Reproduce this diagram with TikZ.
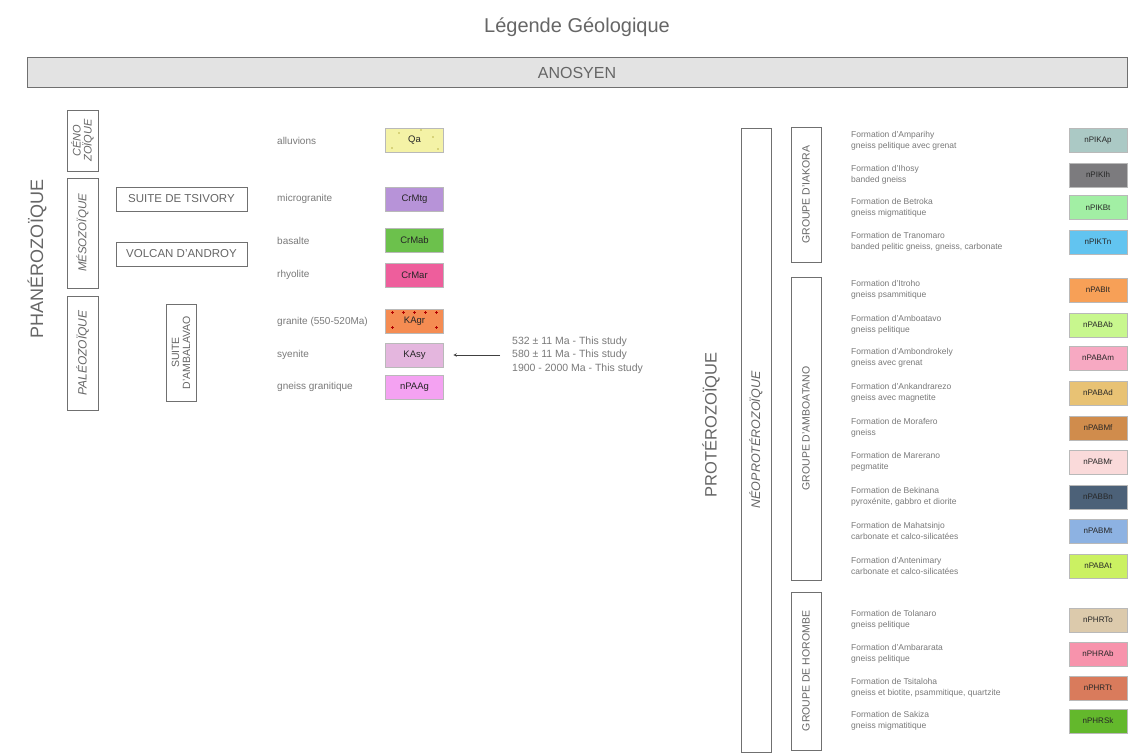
\documentclass[tikz,border=0pt]{standalone}
\usepackage{fontspec}
\setmainfont{Liberation Sans}
\definecolor{txtgray}{HTML}{666666}
\definecolor{labgray}{HTML}{7A7A7A}
\definecolor{boxgray}{HTML}{707070}
\definecolor{cQa}{HTML}{F4F2A6}
\definecolor{cCrMtg}{HTML}{B793D8}
\definecolor{cCrMab}{HTML}{6CC14C}
\definecolor{cCrMar}{HTML}{EE5E9C}
\definecolor{cKAgr}{HTML}{F58C52}
\definecolor{cKAsy}{HTML}{E4B6DE}
\definecolor{cnPAAg}{HTML}{F4A2F2}
\definecolor{cIKAp}{HTML}{ABC9C5}
\definecolor{cIKIh}{HTML}{7C7B7E}
\definecolor{cIKBt}{HTML}{A2EFA4}
\definecolor{cIKTn}{HTML}{62C4F0}
\definecolor{cABIt}{HTML}{F7A057}
\definecolor{cABAb}{HTML}{C8F78E}
\definecolor{cABAm}{HTML}{F7A9C2}
\definecolor{cABAd}{HTML}{E8C274}
\definecolor{cABMf}{HTML}{D08C4C}
\definecolor{cABMr}{HTML}{FADADA}
\definecolor{cABBn}{HTML}{4C6178}
\definecolor{cABMt}{HTML}{8DB2E2}
\definecolor{cABAt}{HTML}{CBF162}
\definecolor{cHRTo}{HTML}{DCCAAC}
\definecolor{cHRAb}{HTML}{F793AC}
\definecolor{cHRTt}{HTML}{D97B5C}
\definecolor{cHRSk}{HTML}{63B82C}
\begin{document}
\begin{tikzpicture}[x=1pt, y=-1pt,
  box/.style={draw=boxgray, line width=0.9pt, text=txtgray, inner sep=0pt, align=center},
  vbox/.style={box, rotate=90},
  swatch/.style={draw=gray!55, line width=0.6pt, minimum width=58pt, minimum height=24pt, inner sep=0pt, text=black!85, font=\fontsize{9.5}{10}\selectfont},
  rswatch/.style={swatch, font=\fontsize{8}{8}\selectfont},
  lab/.style={anchor=west, inner sep=0pt, text=labgray, font=\fontsize{10}{12}\selectfont},
  flab/.style={anchor=west, inner sep=0pt, align=left, text=labgray, font=\fontsize{8.5}{11}\selectfont}]
\useasboundingbox[fill=white] (0,0) rectangle (1129,754);

\node[text=txtgray, font=\fontsize{20}{24}\selectfont] (title) at (577,27) {Légende Géologique};
\node[box, fill=gray!22, line width=1pt, minimum width=1100pt, minimum height=30pt, font=\fontsize{16}{18}\selectfont] (anosyen) at (577,73) {ANOSYEN};

\node[rotate=90, text=txtgray, font=\fontsize{18}{20}\selectfont] (phan) at (37,259) {PHANÉROZOÏQUE};
\node[vbox, minimum width=61pt, minimum height=31pt, font=\itshape\fontsize{11}{11}\selectfont] (ceno) at (82.5,140.5) {CÉNO\\ZOÏQUE};
\node[vbox, minimum width=110pt, minimum height=31pt, font=\itshape\fontsize{11.5}{12}\selectfont] (meso) at (82.5,233) {MÉSOZOÏQUE};
\node[vbox, minimum width=114pt, minimum height=31pt, font=\itshape\fontsize{12}{12}\selectfont] (paleo) at (82.5,353) {PALÉOZOÏQUE};
\node[box, minimum width=131pt, minimum height=24pt, font=\fontsize{11.5}{12}\selectfont] (tsivory) at (181.5,199) {SUITE DE TSIVORY};
\node[box, minimum width=131pt, minimum height=24pt, font=\fontsize{11.5}{12}\selectfont] (androy) at (181.5,254) {VOLCAN D'ANDROY};
\node[vbox, minimum width=97pt, minimum height=30pt, font=\fontsize{10.5}{11}\selectfont] (ambalavao) at (181,352.5) {SUITE\\D'AMBALAVAO};

\node[swatch, fill=cQa] (sw0) at (414.5,140.5) {Qa};
\node[swatch, fill=cCrMtg] (sw1) at (414.5,199) {CrMtg};
\node[swatch, fill=cCrMab] (sw2) at (414.5,240.5) {CrMab};
\node[swatch, fill=cCrMar] (sw3) at (414.5,275) {CrMar};
\node[swatch, fill=cKAgr] (sw4) at (414.5,321.5) {KAgr};
\node[swatch, fill=cKAsy] (sw5) at (414.5,355) {KAsy};
\node[swatch, fill=cnPAAg] (sw6) at (414.5,387) {nPAAg};
\fill[olive!60] (392,148) circle (0.8) (399,133) circle (0.8) (433,137) circle (0.8) (438,149) circle (0.8) (421,130) circle (0.8);
\draw[red!70!black, line width=0.6pt] (391,312.5) -- (394,312.5) (392.5,311) -- (392.5,314)
  (402,312.5) -- (405,312.5) (403.5,311) -- (403.5,314)
  (413,312.5) -- (416,312.5) (414.5,311) -- (414.5,314)
  (424,312.5) -- (427,312.5) (425.5,311) -- (425.5,314)
  (435,312.5) -- (438,312.5) (436.5,311) -- (436.5,314)
  (391,327.5) -- (394,327.5) (392.5,326) -- (392.5,329)
  (435,327.5) -- (438,327.5) (436.5,326) -- (436.5,329);

\node[lab] (lb0) at (277,140.5) {alluvions};
\node[lab] (lb1) at (277,199) {microgranite};
\node[lab] (lb2) at (277,240.5) {basalte};
\node[lab] (lb3) at (277,275) {rhyolite};
\node[lab] (lb4) at (277,321.5) {granite (550-520Ma)};
\node[lab] (lb5) at (277,355) {syenite};
\node[lab] (lb6) at (277,387) {gneiss granitique};

\node[flab, font=\fontsize{10.5}{13.5}\selectfont] (study) at (512,355) {532 ± 11 Ma - This study\\580 ± 11 Ma - This study\\1900 - 2000 Ma - This study};
\draw[-stealth, black!75, line width=0.6pt, shorten <=12pt, shorten >=9.5pt] (study.west) -- (sw5.east);

\node[rotate=90, text=txtgray, font=\fontsize{16.5}{18}\selectfont] (proto) at (711,425) {PROTÉROZOÏQUE};
\node[vbox, minimum width=624pt, minimum height=30pt, font=\itshape\fontsize{12.5}{13}\selectfont] (neo) at (756,440) {NÉOPROTÉROZOÏQUE};
\node[vbox, minimum width=135pt, minimum height=30pt, font=\fontsize{10.5}{11}\selectfont] (iakora) at (806,194.5) {GROUPE D'IAKORA};
\node[vbox, minimum width=303pt, minimum height=30pt, font=\fontsize{10.5}{11}\selectfont] (amboatano) at (806,428.5) {GROUPE D'AMBOATANO};
\node[vbox, minimum width=158pt, minimum height=30pt, font=\fontsize{10.5}{11}\selectfont] (horombe) at (806,671) {GROUPE DE HOROMBE};

\node[flab] (fm0) at (851,140.5) {Formation d'Amparihy\\gneiss pelitique avec grenat};
\node[rswatch, fill=cIKAp] (rsw0) at (1098,140.5) {nPIKAp};
\node[flab] (fm1) at (851,175) {Formation d'Ihosy\\banded gneiss};
\node[rswatch, fill=cIKIh] (rsw1) at (1098,175) {nPIKIh};
\node[flab] (fm2) at (851,207.5) {Formation de Betroka\\gneiss migmatitique};
\node[rswatch, fill=cIKBt] (rsw2) at (1098,207.5) {nPIKBt};
\node[flab] (fm3) at (851,242) {Formation de Tranomaro\\banded pelitic gneiss, gneiss, carbonate};
\node[rswatch, fill=cIKTn] (rsw3) at (1098,242) {nPIKTn};

\node[flab] (fm4) at (851,290) {Formation d'Itroho\\gneiss psammitique};
\node[rswatch, fill=cABIt] (rsw4) at (1098,290) {nPABIt};
\node[flab] (fm5) at (851,325) {Formation d'Amboatavo\\gneiss pelitique};
\node[rswatch, fill=cABAb] (rsw5) at (1098,325) {nPABAb};
\node[flab] (fm6) at (851,358) {Formation d'Ambondrokely\\gneiss avec grenat};
\node[rswatch, fill=cABAm] (rsw6) at (1098,358) {nPABAm};
\node[flab] (fm7) at (851,393) {Formation d'Ankandrarezo\\gneiss avec magnetite};
\node[rswatch, fill=cABAd] (rsw7) at (1098,393) {nPABAd};
\node[flab] (fm8) at (851,428) {Formation de Morafero\\gneiss};
\node[rswatch, fill=cABMf] (rsw8) at (1098,428) {nPABMf};
\node[flab] (fm9) at (851,462) {Formation de Marerano\\pegmatite};
\node[rswatch, fill=cABMr] (rsw9) at (1098,462) {nPABMr};
\node[flab] (fm10) at (851,497) {Formation de Bekinana\\pyroxénite, gabbro et diorite};
\node[rswatch, fill=cABBn] (rsw10) at (1098,497) {nPABBn};
\node[flab] (fm11) at (851,531) {Formation de Mahatsinjo\\carbonate et calco-silicatées};
\node[rswatch, fill=cABMt] (rsw11) at (1098,531) {nPABMt};
\node[flab] (fm12) at (851,566) {Formation d'Antenimary\\carbonate et calco-silicatées};
\node[rswatch, fill=cABAt] (rsw12) at (1098,566) {nPABAt};

\node[flab] (fm13) at (851,620) {Formation de Tolanaro\\gneiss pelitique};
\node[rswatch, fill=cHRTo] (rsw13) at (1098,620) {nPHRTo};
\node[flab] (fm14) at (851,654) {Formation d'Ambararata\\gneiss pelitique};
\node[rswatch, fill=cHRAb] (rsw14) at (1098,654) {nPHRAb};
\node[flab] (fm15) at (851,688) {Formation de Tsitaloha\\gneiss et biotite, psammitique, quartzite};
\node[rswatch, fill=cHRTt] (rsw15) at (1098,688) {nPHRTt};
\node[flab] (fm16) at (851,721) {Formation de Sakiza\\gneiss migmatitique};
\node[rswatch, fill=cHRSk] (rsw16) at (1098,721) {nPHRSk};

\end{tikzpicture}
\end{document}
